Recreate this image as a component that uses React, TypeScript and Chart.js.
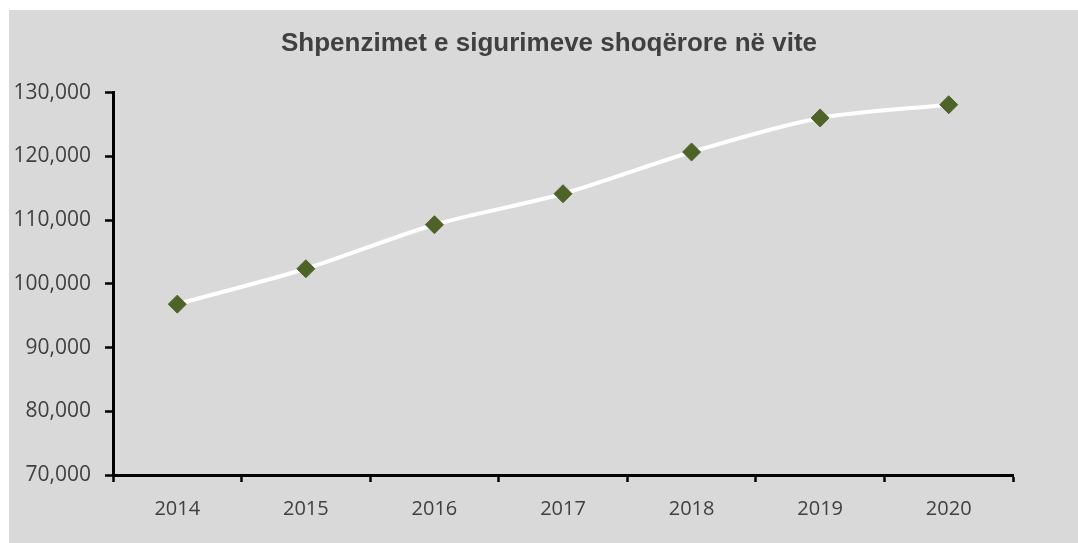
import React, { useEffect, useRef } from "react";
import { Chart, registerables } from "chart.js";

Chart.register(...registerables);

const TITLE = "Shpenzimet e sigurimeve shoqërore në vite";
const YEARS = ["2014", "2015", "2016", "2017", "2018", "2019", "2020"];
const SPENDING = [96810, 102360, 109270, 114130, 120680, 126020, 128100];
const Y_MIN = 70000;
const Y_MAX = 130000;
const Y_STEP = 10000;

const centerTitle = {
  id: "centerTitle",
  afterLayout(chart: any) {
    const t = chart.titleBlock;
    if (t) {
      t.left = 11;
      t.right = chart.width;
      t.width = t.right - t.left;
    }
  },
};

export default function App() {
  const ref = useRef<HTMLCanvasElement | null>(null);

  useEffect(() => {
    if (!ref.current) return;
    const chart = new Chart(ref.current, {
      type: "line",
      data: {
        labels: YEARS,
        datasets: [
          {
            data: SPENDING,
            borderColor: "#ffffff",
            borderWidth: 4,
            tension: 0.3,
            pointStyle: "rectRot",
            pointRadius: 9,
            pointBackgroundColor: "#4f6228",
            pointBorderColor: "#4f6228",
            pointBorderWidth: 1,
          },
        ],
      },
      plugins: [centerTitle],
      options: {
        animation: false,
        responsive: false,
        maintainAspectRatio: false,
        layout: { padding: { top: 0, right: 65, bottom: 0, left: 0 } },
        plugins: {
          legend: { display: false },
          tooltip: { enabled: false },
          title: {
            display: true,
            text: TITLE,
            color: "#404040",
            font: { family: "'Liberation Sans', Arial, sans-serif", size: 26, weight: "bold" },
            padding: { top: 18, bottom: 33.4 },
          },
        },
        scales: {
          x: {
            type: "category",
            offset: true,
            grid: {
              display: true,
              offset: true,
              drawOnChartArea: false,
              drawTicks: true,
              tickLength: 7,
              tickWidth: 2.5,
              tickColor: "#000000",
              color: "#000000",
            },
            border: { display: true, color: "#000000", width: 3 },
            ticks: {
              color: "#404040",
              font: { family: "'Open Sans', sans-serif", size: 20 },
              padding: 15,
              maxRotation: 0,
            },
            afterFit: (scale: any) => {
              scale.height = 68;
            },
          },
          y: {
            min: Y_MIN,
            max: Y_MAX,
            grid: {
              display: true,
              drawOnChartArea: false,
              drawTicks: true,
              tickLength: 8,
              tickWidth: 2.5,
              tickColor: "#000000",
              color: "#000000",
            },
            border: { display: true, color: "#000000", width: 3 },
            ticks: {
              stepSize: Y_STEP,
              color: "#404040",
              font: { family: "'Open Sans', sans-serif", size: 21 },
              padding: 14,
              callback: (v: any) => Number(v).toLocaleString("en-US"),
            },
            afterFit: (scale: any) => {
              scale.width = 104;
            },
          },
        },
      },
    });
    return () => chart.destroy();
  }, []);

  return (
    <div
      style={{
        position: "absolute",
        left: 9,
        top: 10,
        width: 1069,
        height: 533,
        background: "#d9d9d9",
      }}
    >
      <canvas ref={ref} width={1069} height={533} style={{ display: "block" }} />
    </div>
  );
}
